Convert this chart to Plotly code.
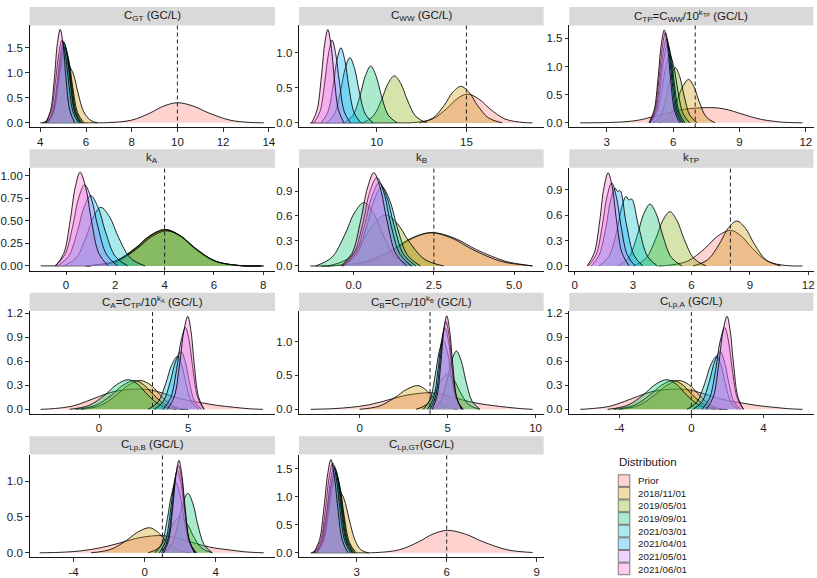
import plotly.graph_objects as go

W, H = 817, 578
FONT = "Liberation Sans, Arial, Helvetica, sans-serif"

SERIES = ["Prior", "2018/11/01", "2019/05/01", "2019/09/01",
          "2021/03/01", "2021/04/01", "2021/05/01", "2021/06/01"]
COLORS = ["#F8766D", "#CD9600", "#7CAE00", "#00BE67",
          "#00BFC4", "#00A9FF", "#C77CFF", "#FF61CC"]

# ---- density curves: (x points, density points) ----
CGT = {
    "Prior": ([4.0, 6.5, 7.0, 8.0, 8.8, 9.4, 10.0, 10.69, 11.38, 12.3, 13.1, 13.78],
              [0, 0.001, 0.005, 0.054, 0.195, 0.334, 0.40, 0.334, 0.195, 0.054, 0.01, 0]),
    "2018/11/01": ([4.1, 4.4, 4.65, 4.85, 5.05, 5.25, 5.45, 5.65, 5.9, 6.2, 6.5],
                   [0, 0.08, 0.45, 1.0, 1.3, 1.15, 0.97, 0.6, 0.22, 0.05, 0]),
    "2019/05/01": ([4.29, 4.56, 4.78, 4.94, 5.1, 5.26, 5.42, 5.64, 5.91],
                   [0, 0.196, 0.706, 1.21, 1.45, 1.21, 0.706, 0.196, 0]),
    "2019/09/01": ([4.33, 4.58, 4.78, 4.93, 5.08, 5.23, 5.38, 5.58, 5.83],
                   [0, 0.205, 0.74, 1.27, 1.52, 1.27, 0.74, 0.205, 0]),
    "2021/03/01": ([4.33, 4.57, 4.76, 4.91, 5.05, 5.19, 5.34, 5.53, 5.77],
                   [0, 0.213, 0.77, 1.32, 1.58, 1.32, 0.77, 0.213, 0]),
    "2021/04/01": ([4.3, 4.54, 4.73, 4.88, 5.02, 5.16, 5.31, 5.5, 5.74],
                   [0, 0.219, 0.789, 1.353, 1.62, 1.353, 0.789, 0.219, 0]),
    "2021/05/01": ([4.23, 4.47, 4.66, 4.81, 4.95, 5.09, 5.24, 5.43, 5.67],
                   [0, 0.223, 0.804, 1.378, 1.65, 1.378, 0.804, 0.223, 0]),
    "2021/06/01": ([4.24, 4.45, 4.62, 4.74, 4.87, 5.0, 5.12, 5.29, 5.5],
                   [0, 0.251, 0.906, 1.553, 1.86, 1.553, 0.906, 0.251, 0]),
}

CWW = {
    "Prior": ([6.3, 11.0, 12.14, 13.11, 13.89, 14.47, 15.05, 15.68, 16.31, 17.15, 18.2, 18.68],
              [0, 0.001, 0.006, 0.055, 0.2, 0.342, 0.41, 0.342, 0.2, 0.055, 0.005, 0]),
    "2018/11/01": ([12.38, 13.15, 13.77, 14.23, 14.69, 15.15, 15.61, 16.23, 17.0],
                   [0, 0.07, 0.253, 0.434, 0.52, 0.434, 0.253, 0.07, 0]),
    "2019/05/01": ([9.19, 9.79, 10.27, 10.63, 10.99, 11.35, 11.71, 12.19, 12.79],
                   [0, 0.09, 0.326, 0.559, 0.67, 0.559, 0.326, 0.09, 0]),
    "2019/09/01": ([8.2, 8.69, 9.08, 9.38, 9.67, 9.96, 10.26, 10.65, 11.14],
                   [0, 0.109, 0.394, 0.676, 0.81, 0.676, 0.394, 0.109, 0]),
    "2021/03/01": ([7.22, 7.65, 7.99, 8.25, 8.51, 8.77, 9.03, 9.37, 9.8],
                   [0, 0.126, 0.453, 0.777, 0.93, 0.777, 0.453, 0.126, 0]),
    "2021/04/01": ([6.9, 7.27, 7.57, 7.79, 8.01, 8.23, 8.45, 8.75, 9.12],
                   [0, 0.144, 0.521, 0.893, 1.07, 0.893, 0.521, 0.144, 0]),
    "2021/05/01": ([6.5, 6.84, 7.11, 7.32, 7.52, 7.72, 7.93, 8.2, 8.54],
                   [0, 0.159, 0.575, 0.985, 1.18, 0.985, 0.575, 0.159, 0]),
    "2021/06/01": ([6.38, 6.68, 6.92, 7.1, 7.28, 7.46, 7.64, 7.88, 8.18],
                   [0, 0.18, 0.648, 1.11, 1.33, 1.11, 0.648, 0.18, 0]),
}

CTP = {
    "Prior": ([1.8, 3.0, 4.0, 4.6, 5.0, 5.5, 6.0, 6.5, 7.0, 7.5, 8.0, 8.5, 9.0, 9.5, 10.0, 10.5, 11.0, 11.85],
              [0, 0.005, 0.025, 0.06, 0.1, 0.15, 0.2, 0.24, 0.26, 0.27, 0.265, 0.23, 0.17, 0.11, 0.06, 0.03, 0.01, 0]),
    "2018/11/01": ([5.35, 5.8, 6.16, 6.43, 6.7, 6.94, 7.18, 7.5, 7.9],
                   [0, 0.104, 0.375, 0.643, 0.77, 0.643, 0.375, 0.104, 0]),
    "2019/05/01": ([5.11, 5.44, 5.7, 5.9, 6.1, 6.3, 6.5, 6.76, 7.09],
                   [0, 0.132, 0.477, 0.818, 0.98, 0.818, 0.477, 0.132, 0]),
    "2019/09/01": ([4.95, 5.25, 5.49, 5.67, 5.85, 6.03, 6.21, 6.45, 6.75],
                   [0, 0.162, 0.584, 1.002, 1.2, 1.002, 0.584, 0.162, 0]),
    "2021/03/01": ([4.97, 5.23, 5.44, 5.59, 5.75, 5.91, 6.06, 6.27, 6.53],
                   [0, 0.189, 0.682, 1.169, 1.4, 1.169, 0.682, 0.189, 0]),
    "2021/04/01": ([4.95, 5.2, 5.4, 5.55, 5.7, 5.85, 6.0, 6.2, 6.45],
                   [0, 0.203, 0.731, 1.253, 1.5, 1.253, 0.731, 0.203, 0]),
    "2021/05/01": ([4.93, 5.17, 5.36, 5.51, 5.65, 5.79, 5.94, 6.13, 6.37],
                   [0, 0.216, 0.779, 1.336, 1.6, 1.336, 0.779, 0.216, 0]),
    "2021/06/01": ([4.91, 5.14, 5.32, 5.46, 5.6, 5.74, 5.88, 6.06, 6.29],
                   [0, 0.223, 0.804, 1.378, 1.65, 1.378, 0.804, 0.223, 0]),
}

KA = {
    "Prior": ([-1.03, 0.5, 1.0, 2.0, 2.8, 3.4, 4.0, 4.6, 5.2, 6.0, 7.0, 8.03],
              [0, 0.001, 0.004, 0.054, 0.195, 0.334, 0.40, 0.334, 0.195, 0.054, 0.004, 0]),
    "2018/11/01": ([0.8, 1.05, 2.05, 2.85, 3.45, 4.05, 4.65, 5.25, 6.05, 7.05, 8.0],
                   [0, 0.004, 0.054, 0.195, 0.334, 0.40, 0.334, 0.195, 0.054, 0.004, 0]),
    "2019/05/01": ([0.8, 1.02, 2.02, 2.82, 3.42, 4.02, 4.62, 5.22, 6.02, 7.02, 7.9],
                   [0, 0.004, 0.055, 0.197, 0.338, 0.405, 0.338, 0.197, 0.055, 0.004, 0]),
    "2019/09/01": ([0.9, 1.08, 2.08, 2.88, 3.48, 4.08, 4.68, 5.28, 6.08, 7.08, 7.9],
                   [0, 0.004, 0.053, 0.19, 0.326, 0.39, 0.326, 0.19, 0.053, 0.004, 0]),
    "2021/03/01": ([-0.09, 0.41, 0.81, 1.11, 1.41, 1.77, 2.13, 2.61, 3.21],
                   [0, 0.088, 0.317, 0.543, 0.65, 0.543, 0.317, 0.088, 0]),
    "2021/04/01": ([-0.35, 0.1, 0.46, 0.73, 1.0, 1.3, 1.6, 2.0, 2.5],
                   [0, 0.105, 0.38, 0.651, 0.78, 0.651, 0.38, 0.105, 0]),
    "2021/05/01": ([-0.45, -0.05, 0.27, 0.51, 0.75, 1.02, 1.29, 1.65, 2.1],
                   [0, 0.122, 0.438, 0.752, 0.9, 0.752, 0.438, 0.122, 0]),
    "2021/06/01": ([-0.42, -0.09, 0.17, 0.37, 0.57, 0.8, 1.03, 1.33, 1.71],
                   [0, 0.14, 0.506, 0.868, 1.04, 0.868, 0.506, 0.14, 0]),
}

KB = {
    "Prior": ([-1.35, -0.55, 0.45, 1.25, 1.85, 2.45, 3.14, 3.83, 4.75, 5.3, 5.57],
              [0, 0.004, 0.054, 0.195, 0.334, 0.40, 0.334, 0.195, 0.054, 0.015, 0]),
    "2018/11/01": ([-1.0, -0.6, 0.4, 1.2, 1.8, 2.4, 3.06, 3.72, 4.6, 5.3, 5.57],
                   [0, 0.004, 0.054, 0.195, 0.334, 0.40, 0.334, 0.195, 0.054, 0.012, 0]),
    "2019/05/01": ([-0.8, -0.2, 0.28, 0.64, 1.0, 1.36, 1.72, 2.2, 2.8],
                   [0, 0.082, 0.297, 0.509, 0.61, 0.509, 0.297, 0.082, 0]),
    "2019/09/01": ([-1.18, -0.68, -0.28, 0.02, 0.32, 0.62, 0.92, 1.32, 1.82],
                   [0, 0.103, 0.37, 0.635, 0.76, 0.635, 0.37, 0.103, 0]),
    "2021/03/01": ([-0.32, 0.08, 0.4, 0.64, 0.88, 1.12, 1.36, 1.68, 2.08],
                   [0, 0.128, 0.463, 0.793, 0.95, 0.793, 0.463, 0.128, 0]),
    "2021/04/01": ([-0.34, 0.04, 0.34, 0.57, 0.8, 1.03, 1.26, 1.56, 1.94],
                   [0, 0.135, 0.487, 0.835, 1.0, 0.835, 0.487, 0.135, 0]),
    "2021/05/01": ([-0.36, 0.0, 0.29, 0.5, 0.72, 0.94, 1.15, 1.44, 1.8],
                   [0, 0.143, 0.516, 0.885, 1.06, 0.885, 0.516, 0.143, 0]),
    "2021/06/01": ([-0.39, -0.05, 0.22, 0.43, 0.63, 0.83, 1.04, 1.31, 1.65],
                   [0, 0.151, 0.545, 0.935, 1.12, 0.935, 0.545, 0.151, 0]),
}

KTP = {
    "Prior": ([4.3, 4.7, 5.8, 6.68, 7.34, 8.0, 8.57, 9.14, 9.9, 10.85, 11.7],
              [0, 0.005, 0.057, 0.205, 0.351, 0.42, 0.351, 0.205, 0.057, 0.005, 0]),
    "2018/11/01": ([6.08, 6.83, 7.43, 7.88, 8.33, 8.78, 9.23, 9.83, 10.58],
                   [0, 0.072, 0.258, 0.443, 0.53, 0.443, 0.258, 0.072, 0]),
    "2019/05/01": ([3.03, 3.65, 4.15, 4.52, 4.89, 5.26, 5.63, 6.13, 6.75],
                   [0, 0.086, 0.312, 0.534, 0.64, 0.534, 0.312, 0.086, 0]),
    "2019/09/01": ([2.22, 2.77, 3.21, 3.54, 3.87, 4.2, 4.53, 4.97, 5.52],
                   [0, 0.099, 0.356, 0.61, 0.73, 0.61, 0.356, 0.099, 0]),
    "2021/03/01": ([1.25, 1.75, 2.15, 2.42, 2.64, 2.78, 2.93, 3.3, 3.75, 4.25],
                   [0, 0.111, 0.4, 0.7, 0.82, 0.78, 0.79, 0.45, 0.111, 0]),
    "2021/04/01": ([0.85, 1.25, 1.6, 1.85, 2.08, 2.2, 2.33, 2.65, 3.05, 3.5],
                   [0, 0.125, 0.45, 0.78, 0.92, 0.88, 0.89, 0.5, 0.125, 0]),
    "2021/05/01": ([0.7, 1.1, 1.42, 1.66, 1.9, 2.14, 2.38, 2.7, 3.1],
                   [0, 0.132, 0.477, 0.818, 0.98, 0.818, 0.477, 0.132, 0]),
    "2021/06/01": ([0.64, 1.0, 1.29, 1.5, 1.72, 1.94, 2.15, 2.44, 2.8],
                   [0, 0.149, 0.536, 0.919, 1.1, 0.919, 0.536, 0.149, 0]),
}

CA = {
    "Prior": ([-3.28, -2.5, -1.5, -0.7, 0.0, 0.8, 1.8, 2.8, 3.6, 4.3, 5.0, 5.8, 6.6, 7.6, 8.4, 9.19],
              [0, 0.01, 0.04, 0.1, 0.16, 0.22, 0.25, 0.245, 0.2, 0.15, 0.11, 0.08, 0.05, 0.025, 0.008, 0]),
    "2018/11/01": ([-1.0, 0.1, 0.95, 1.65, 2.3, 2.85, 3.35, 3.9, 4.5, 5.0],
                   [0, 0.05, 0.175, 0.3, 0.36, 0.31, 0.2, 0.08, 0.01, 0]),
    "2019/05/01": ([-1.3, -0.2, 0.68, 1.34, 2.0, 2.54, 3.08, 3.8, 4.7],
                   [0, 0.049, 0.175, 0.3, 0.36, 0.3, 0.175, 0.049, 0]),
    "2019/09/01": ([-1.65, -0.55, 0.33, 0.99, 1.65, 2.19, 2.73, 3.45, 4.35],
                   [0, 0.05, 0.18, 0.309, 0.37, 0.309, 0.18, 0.05, 0]),
    "2021/03/01": ([2.75, 3.3, 3.74, 4.07, 4.4, 4.64, 4.88, 5.2, 5.6],
                   [0, 0.089, 0.321, 0.551, 0.66, 0.551, 0.321, 0.089, 0]),
    "2021/04/01": ([3.1, 3.6, 4.0, 4.3, 4.6, 4.83, 5.06, 5.36, 5.74],
                   [0, 0.097, 0.351, 0.601, 0.72, 0.601, 0.351, 0.097, 0]),
    "2021/05/01": ([3.59, 4.01, 4.35, 4.6, 4.85, 5.06, 5.27, 5.55, 5.9],
                   [0, 0.138, 0.497, 0.852, 1.02, 0.852, 0.497, 0.138, 0]),
    "2021/06/01": ([3.84, 4.22, 4.52, 4.75, 4.98, 5.16, 5.34, 5.58, 5.88],
                   [0, 0.157, 0.565, 0.969, 1.16, 0.969, 0.565, 0.157, 0]),
}

CB = {
    "Prior": ([-2.79, -1.5, -0.5, 0.5, 1.5, 2.5, 3.4, 4.0, 4.8, 5.5, 6.2, 6.9, 7.6, 8.4, 9.2, 9.83],
              [0, 0.01, 0.03, 0.065, 0.13, 0.2, 0.235, 0.245, 0.215, 0.165, 0.115, 0.08, 0.055, 0.03, 0.01, 0]),
    "2018/11/01": ([0.0, 1.1, 1.98, 2.64, 3.3, 3.75, 4.2, 4.8, 5.55],
                   [0, 0.047, 0.17, 0.29, 0.35, 0.29, 0.17, 0.047, 0]),
    "2019/05/01": ([3.2, 3.8, 4.28, 4.64, 5.0, 5.36, 5.72, 6.2, 6.8],
                   [0, 0.07, 0.253, 0.434, 0.52, 0.434, 0.253, 0.07, 0]),
    "2019/09/01": ([4.15, 4.6, 4.96, 5.23, 5.5, 5.77, 6.04, 6.4, 6.85],
                   [0, 0.116, 0.419, 0.718, 0.86, 0.718, 0.419, 0.116, 0]),
    "2021/03/01": ([3.61, 3.99, 4.29, 4.52, 4.75, 4.98, 5.21, 5.51, 5.89],
                   [0, 0.138, 0.497, 0.852, 1.02, 0.852, 0.497, 0.138, 0]),
    "2021/04/01": ([3.86, 4.19, 4.45, 4.65, 4.85, 5.05, 5.25, 5.51, 5.84],
                   [0, 0.162, 0.584, 1.002, 1.2, 1.002, 0.584, 0.162, 0]),
    "2021/05/01": ([4.0, 4.3, 4.54, 4.72, 4.9, 5.08, 5.26, 5.5, 5.8],
                   [0, 0.176, 0.633, 1.086, 1.3, 1.086, 0.633, 0.176, 0]),
    "2021/06/01": ([4.11, 4.39, 4.61, 4.78, 4.95, 5.12, 5.29, 5.51, 5.79],
                   [0, 0.186, 0.672, 1.152, 1.38, 1.152, 0.672, 0.186, 0]),
}

CLPA = {
    "Prior": ([-6.17, -5.5, -4.5, -3.7, -3.0, -2.2, -1.2, -0.2, 0.6, 1.3, 2.0, 2.8, 3.6, 4.6, 5.4, 6.17],
              [0, 0.01, 0.04, 0.1, 0.16, 0.22, 0.25, 0.245, 0.2, 0.15, 0.11, 0.08, 0.05, 0.025, 0.008, 0]),
    "2018/11/01": ([-4.0, -2.9, -2.05, -1.35, -0.7, -0.15, 0.35, 0.9, 1.5, 2.0],
                   [0, 0.05, 0.175, 0.3, 0.36, 0.31, 0.2, 0.08, 0.01, 0]),
    "2019/05/01": ([-4.3, -3.2, -2.32, -1.66, -1.0, -0.46, 0.08, 0.8, 1.7],
                   [0, 0.049, 0.175, 0.3, 0.36, 0.3, 0.175, 0.049, 0]),
    "2019/09/01": ([-4.65, -3.55, -2.67, -2.01, -1.35, -0.81, -0.27, 0.45, 1.35],
                   [0, 0.05, 0.18, 0.309, 0.37, 0.309, 0.18, 0.05, 0]),
    "2021/03/01": ([-0.25, 0.3, 0.74, 1.07, 1.4, 1.64, 1.88, 2.2, 2.6],
                   [0, 0.089, 0.321, 0.551, 0.66, 0.551, 0.321, 0.089, 0]),
    "2021/04/01": ([0.1, 0.6, 1.0, 1.3, 1.6, 1.83, 2.06, 2.36, 2.74],
                   [0, 0.097, 0.351, 0.601, 0.72, 0.601, 0.351, 0.097, 0]),
    "2021/05/01": ([0.59, 1.01, 1.35, 1.6, 1.85, 2.06, 2.27, 2.55, 2.9],
                   [0, 0.138, 0.497, 0.852, 1.02, 0.852, 0.497, 0.138, 0]),
    "2021/06/01": ([0.84, 1.22, 1.52, 1.75, 1.98, 2.16, 2.34, 2.58, 2.88],
                   [0, 0.157, 0.565, 0.969, 1.16, 0.969, 0.565, 0.157, 0]),
}

CLPB = {
    "Prior": ([-5.9, -4.5, -3.5, -2.5, -1.5, -0.5, 0.4, 1.0, 1.8, 2.5, 3.3, 4.0, 4.8, 5.6, 6.7],
              [0, 0.01, 0.03, 0.07, 0.13, 0.2, 0.235, 0.24, 0.21, 0.16, 0.1, 0.065, 0.04, 0.015, 0]),
    "2018/11/01": ([-3.02, -1.92, -1.04, -0.38, 0.28, 0.73, 1.18, 1.78, 2.53],
                   [0, 0.047, 0.17, 0.29, 0.35, 0.29, 0.17, 0.047, 0]),
    "2019/05/01": ([0.2, 0.8, 1.28, 1.64, 2.0, 2.36, 2.72, 3.2, 3.8],
                   [0, 0.068, 0.244, 0.418, 0.5, 0.418, 0.244, 0.068, 0]),
    "2019/09/01": ([1.05, 1.51, 1.88, 2.15, 2.43, 2.71, 2.98, 3.35, 3.81],
                   [0, 0.112, 0.404, 0.693, 0.83, 0.693, 0.404, 0.112, 0]),
    "2021/03/01": ([0.58, 0.97, 1.28, 1.52, 1.75, 1.98, 2.22, 2.53, 2.92],
                   [0, 0.132, 0.477, 0.818, 0.98, 0.818, 0.477, 0.132, 0]),
    "2021/04/01": ([0.83, 1.17, 1.44, 1.65, 1.85, 2.05, 2.26, 2.53, 2.87],
                   [0, 0.155, 0.56, 0.96, 1.15, 0.96, 0.56, 0.155, 0]),
    "2021/05/01": ([0.97, 1.28, 1.53, 1.71, 1.9, 2.09, 2.27, 2.52, 2.83],
                   [0, 0.165, 0.594, 1.019, 1.22, 1.019, 0.594, 0.165, 0]),
    "2021/06/01": ([1.06, 1.35, 1.58, 1.76, 1.93, 2.1, 2.28, 2.51, 2.8],
                   [0, 0.174, 0.628, 1.077, 1.29, 1.077, 0.628, 0.174, 0]),
}

CLPGT = {
    "Prior": ([1.47, 3.0, 3.62, 4.42, 5.06, 5.54, 6.02, 6.62, 7.22, 8.02, 8.86],
              [0, 0.001, 0.004, 0.054, 0.195, 0.334, 0.40, 0.334, 0.195, 0.054, 0.006]),
    "2018/11/01": ([1.5, 1.75, 1.95, 2.1, 2.25, 2.4, 2.58, 2.75, 2.95, 3.15, 3.4],
                   [0, 0.1, 0.55, 1.05, 1.35, 1.15, 0.96, 0.6, 0.22, 0.05, 0]),
    "2019/05/01": ([1.66, 1.88, 2.06, 2.19, 2.32, 2.45, 2.58, 2.76, 2.98],
                   [0, 0.186, 0.672, 1.152, 1.38, 1.152, 0.672, 0.186, 0]),
    "2019/09/01": ([1.67, 1.88, 2.05, 2.17, 2.3, 2.43, 2.55, 2.72, 2.93],
                   [0, 0.196, 0.706, 1.211, 1.45, 1.211, 0.706, 0.196, 0]),
    "2021/03/01": ([1.68, 1.88, 2.04, 2.16, 2.28, 2.4, 2.52, 2.68, 2.88],
                   [0, 0.203, 0.731, 1.253, 1.5, 1.253, 0.731, 0.203, 0]),
    "2021/04/01": ([1.65, 1.85, 2.01, 2.13, 2.25, 2.37, 2.49, 2.65, 2.85],
                   [0, 0.209, 0.755, 1.294, 1.55, 1.294, 0.755, 0.209, 0]),
    "2021/05/01": ([1.6, 1.8, 1.96, 2.08, 2.2, 2.32, 2.44, 2.6, 2.8],
                   [0, 0.216, 0.779, 1.336, 1.6, 1.336, 0.779, 0.216, 0]),
    "2021/06/01": ([1.57, 1.76, 1.91, 2.03, 2.14, 2.25, 2.37, 2.52, 2.71],
                   [0, 0.224, 0.808, 1.386, 1.66, 1.386, 0.808, 0.224, 0]),
}

PANELS = [CGT, CWW, CTP, KA, KB, KTP, CA, CB, CLPA, CLPB, CLPGT]
TITLES = [
    "C<sub>GT</sub> (GC/L)",
    "C<sub>WW</sub> (GC/L)",
    "C<sub>TP</sub>=C<sub>WW</sub>/10<sup>k<sub>TP</sub></sup> (GC/L)",
    "k<sub>A</sub>",
    "k<sub>B</sub>",
    "k<sub>TP</sub>",
    "C<sub>A</sub>=C<sub>TP</sub>/10<sup>k<sub>A</sub></sup> (GC/L)",
    "C<sub>B</sub>=C<sub>TP</sub>/10<sup>k<sub>B</sub></sup> (GC/L)",
    "C<sub>Lp,A</sub> (GC/L)",
    "C<sub>Lp,B</sub> (GC/L)",
    "C<sub>Lp,GT</sub>(GC/L)",
]
TRUE_VALUES = [10, 15, 7, 4, 2.5, 8, 3, 4, 0, 1, 6]

X_TICKS = [[4, 6, 8, 10, 12, 14], [10, 15], [3, 6, 9, 12], [0, 2, 4, 6, 8], [0, 2.5, 5],
           [0, 3, 6, 9, 12], [0, 5], [0, 5, 10], [-4, 0, 4], [-4, 0, 4], [3, 6, 9]]
X_LABELS = [["4", "6", "8", "10", "12", "14"], ["10", "15"], ["3", "6", "9", "12"],
            ["0", "2", "4", "6", "8"], ["0.0", "2.5", "5.0"], ["0", "3", "6", "9", "12"],
            ["0", "5"], ["0", "5", "10"], ["-4", "0", "4"], ["-4", "0", "4"], ["3", "6", "9"]]
Y_TICKS = [[0, 0.5, 1, 1.5], [0, 0.5, 1], [0, 0.5, 1, 1.5], [0, 0.25, 0.5, 0.75, 1],
           [0, 0.3, 0.6, 0.9], [0, 0.3, 0.6, 0.9], [0, 0.3, 0.6, 0.9, 1.2], [0, 0.5, 1],
           [0, 0.3, 0.6, 0.9, 1.2], [0, 0.5, 1], [0, 0.5, 1, 1.5]]
Y_LABELS = [["0.0", "0.5", "1.0", "1.5"], ["0.0", "0.5", "1.0"], ["0.0", "0.5", "1.0", "1.5"],
            ["0.00", "0.25", "0.50", "0.75", "1.00"], ["0.0", "0.3", "0.6", "0.9"],
            ["0.0", "0.3", "0.6", "0.9"], ["0.0", "0.3", "0.6", "0.9", "1.2"], ["0.0", "0.5", "1.0"],
            ["0.0", "0.3", "0.6", "0.9", "1.2"], ["0.0", "0.5", "1.0"], ["0.0", "0.5", "1.0", "1.5"]]

# ---- layout (pixel geometry) ----
X_RANGES = [[3.53, 14.27], [5.68, 19.3], [1.3, 12.35], [-1.48, 8.48], [-1.7, 5.92], [-0.28, 12.27],
            [-3.9, 9.87], [-3.45, 10.46], [-6.78, 6.78], [-6.47, 7.33], [1.08, 9.23]]
Y_RANGES = [[-0.093, 1.94], [-0.066, 1.39], [-0.083, 1.73], [-0.052, 1.09], [-0.056, 1.18],
            [-0.055, 1.16], [-0.058, 1.225], [-0.069, 1.45], [-0.058, 1.225], [-0.065, 1.37],
            [-0.083, 1.75]]
COL_PX = [(26.7, 273.3), (297.5, 543.3), (569.0, 814.5)]
ROW_PX = [(21.6, 124.8), (165.4, 269.4), (310.3, 414.3), (455.3, 559.3)]
STRIP_H = 18.6
ALPHA = 0.33


def rgba(hex_color, a):
    h = hex_color.lstrip("#")
    return "rgba(%d,%d,%d,%.2f)" % (int(h[0:2], 16), int(h[2:4], 16), int(h[4:6], 16), a)


fig = go.Figure()
shapes = []
annotations = []
layout_axes = {}

for i, panel in enumerate(PANELS):
    n = i + 1
    r, c = divmod(i, 3)
    xref = "x" if n == 1 else "x%d" % n
    yref = "y" if n == 1 else "y%d" % n
    xkey = "xaxis" if n == 1 else "xaxis%d" % n
    ykey = "yaxis" if n == 1 else "yaxis%d" % n
    x0p, x1p = COL_PX[c]
    t, b = ROW_PX[r]

    for name, col in zip(SERIES, COLORS):
        xs, ys = panel[name]
        fig.add_trace(go.Scatter(
            x=xs, y=ys, mode="lines", line=dict(color="black", width=0.85, shape="spline", smoothing=1.0),
            fill="tozeroy", fillcolor=rgba(col, ALPHA), name=name, showlegend=False,
            xaxis=xref, yaxis=yref, hoverinfo="skip"))

    common = dict(showgrid=False, zeroline=False, showline=True, linecolor="black", linewidth=0.9,
                  ticks="outside", ticklen=3.5, tickwidth=0.8, tickcolor="black",
                  tickfont=dict(family=FONT, size=11.5, color="#1a1a1a"), fixedrange=True)
    layout_axes[xkey] = dict(common, domain=[x0p / W, x1p / W], anchor=yref, range=X_RANGES[i],
                             tickmode="array", tickvals=X_TICKS[i], ticktext=X_LABELS[i])
    layout_axes[ykey] = dict(common, domain=[1 - b / H, 1 - t / H], anchor=xref, range=Y_RANGES[i],
                             tickmode="array", tickvals=Y_TICKS[i], ticktext=Y_LABELS[i])

    # reference (true value) line
    shapes.append(dict(type="line", xref=xref, yref=yref + " domain", x0=TRUE_VALUES[i], x1=TRUE_VALUES[i],
                       y0=0, y1=1, line=dict(color="#222222", width=1.0, dash="4px,3px"), layer="above"))
    # facet strip
    shapes.append(dict(type="rect", xref="paper", yref="paper", x0=x0p / W, x1=x1p / W,
                       y0=1 - t / H, y1=1 - (t - STRIP_H) / H, fillcolor="#D9D9D9", line=dict(width=0),
                       layer="below"))
    annotations.append(dict(xref="paper", yref="paper", x=(x0p + x1p) / 2 / W, y=1 - (t - STRIP_H / 2) / H,
                            text=TITLES[i], showarrow=False, xanchor="center", yanchor="middle",
                            font=dict(family=FONT, size=11.5, color="#1a1a1a")))

# ---- manual legend ----
annotations.append(dict(xref="paper", yref="paper", x=617.5 / W, y=1 - 463.3 / H, text="Distribution",
                        showarrow=False, xanchor="left", yanchor="middle",
                        font=dict(family=FONT, size=11.5, color="#1a1a1a")))
for k, (name, col) in enumerate(zip(SERIES, COLORS)):
    top = 475.7 + 12.75 * k
    shapes.append(dict(type="rect", xref="paper", yref="paper", x0=618.3 / W, x1=630.0 / W,
                       y0=1 - (top + 11.8) / H, y1=1 - top / H, fillcolor=rgba(col, ALPHA),
                       line=dict(color="#333333", width=0.6)))
    annotations.append(dict(xref="paper", yref="paper", x=636.0 / W, y=1 - (top + 6.0) / H, text=name,
                            showarrow=False, xanchor="left", yanchor="middle",
                            font=dict(family=FONT, size=9.8, color="#1a1a1a")))

fig.update_layout(
    width=W, height=H, margin=dict(l=0, r=0, t=0, b=0),
    paper_bgcolor="white", plot_bgcolor="white", showlegend=False,
    shapes=shapes, annotations=annotations, **layout_axes)

fig.write_html(
    "out.html",
    config={"displayModeBar": False, "staticPlot": True},
    post_script="document.body.style.margin='0';document.body.style.padding='0';"
                "document.documentElement.style.overflow='hidden';document.body.style.overflow='hidden';")
